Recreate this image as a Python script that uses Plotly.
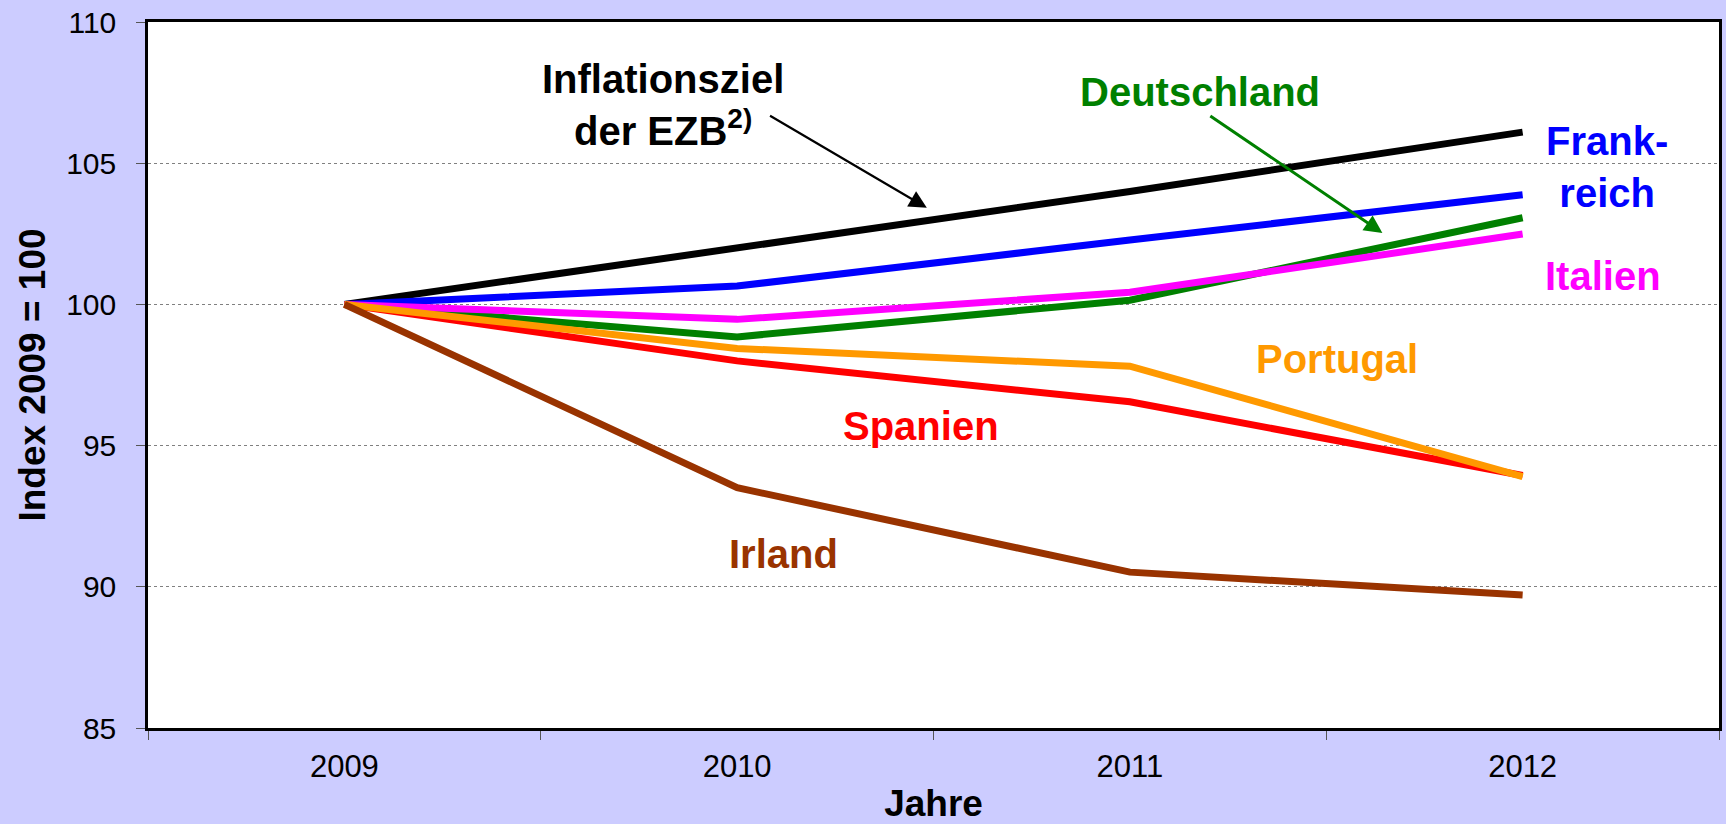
import plotly.graph_objects as go

years = ["2009", "2010", "2011", "2012"]

inflationsziel = [100.0, 102.0, 104.0, 106.1]
frankreich = [100.0, 100.65, 102.28, 103.88]
deutschland = [100.0, 98.85, 100.15, 103.07]
italien = [100.0, 99.47, 100.43, 102.49]
spanien = [100.0, 98.0, 96.55, 93.94]
portugal = [100.0, 98.44, 97.81, 93.9]
irland = [100.0, 93.51, 90.52, 89.71]

series = [
    ("Inflationsziel der EZB", inflationsziel, "#000000"),
    ("Frankreich", frankreich, "#0000FF"),
    ("Deutschland", deutschland, "#008000"),
    ("Italien", italien, "#FF00FF"),
    ("Spanien", spanien, "#FF0000"),
    ("Portugal", portugal, "#FF9900"),
    ("Irland", irland, "#993300"),
]

FONT = "Liberation Sans, Arial, sans-serif"

fig = go.Figure()
for name, vals, col in series:
    fig.add_trace(go.Scatter(x=years, y=vals, mode="lines", name=name,
                             line=dict(color=col, width=7), showlegend=False))

labels = [
    ("Inflationsziel<br>der EZB<sup>2)</sup>", 0.81, 107.07, "#000000"),
    ("Deutschland", 2.178, 107.51, "#008000"),
    ("Frank-<br>reich", 3.214, 104.85, "#0000FF"),
    ("Italien", 3.204, 101.0, "#FF00FF"),
    ("Portugal", 2.527, 98.08, "#FF9900"),
    ("Spanien", 1.468, 95.70, "#FF0000"),
    ("Irland", 1.119, 91.17, "#993300"),
]
for txt, x, y, col in labels:
    fig.add_annotation(x=x, y=y, xref="x", yref="y", text="<b>" + txt + "</b>",
                       showarrow=False, font=dict(family=FONT, size=40, color=col),
                       xanchor="center", yanchor="middle", align="center")

arrows = [
    (1.483, 103.42, 1.080, 106.71, "#000000", 2.2),
    (2.643, 102.53, 2.201, 106.71, "#008000", 3),
]
for x, y, ax, ay, col, w in arrows:
    fig.add_annotation(x=x, y=y, ax=ax, ay=ay, xref="x", yref="y", axref="x", ayref="y",
                       text="", showarrow=True, arrowhead=2, arrowsize=1.6 if w < 3 else 1.2,
                       arrowwidth=w, arrowcolor=col, standoff=0, startstandoff=0)

fig.update_layout(
    width=1726, height=824,
    paper_bgcolor="#CCCCFF", plot_bgcolor="#FFFFFF",
    margin=dict(l=148, r=7, t=22, b=96, autoexpand=False),
    font=dict(family=FONT, color="#000000"),
)
fig.update_xaxes(
    type="category", range=[-0.5, 3.5], tickson="boundaries",
    ticks="outside", ticklen=9, tickcolor="#555555", tickwidth=1,
    showgrid=False, showline=True, linecolor="#000000", linewidth=2.5, mirror=True,
    tickfont=dict(family=FONT, size=31, color="#000000"),
    ticklabelstandoff=9,
    title=dict(text="<b>Jahre</b>", font=dict(family=FONT, size=37, color="#000000"), standoff=11),
)
fig.update_yaxes(
    range=[85, 110], dtick=5, tick0=85,
    ticks="outside", ticklen=9, tickcolor="#555555", tickwidth=1,
    showgrid=True, gridcolor="#808080", gridwidth=1, griddash="dot",
    showline=True, linecolor="#000000", linewidth=2.5, mirror=True,
    tickfont=dict(family=FONT, size=30, color="#000000"),
    ticklabelstandoff=14,
    zeroline=False,
    title=dict(text="<b>Index 2009 = 100</b>", font=dict(family=FONT, size=37, color="#000000"), standoff=10),
)

fig.write_html("out.html", config={"displayModeBar": False},
               post_script="document.body.style.margin='0';document.body.style.overflow='hidden';")
